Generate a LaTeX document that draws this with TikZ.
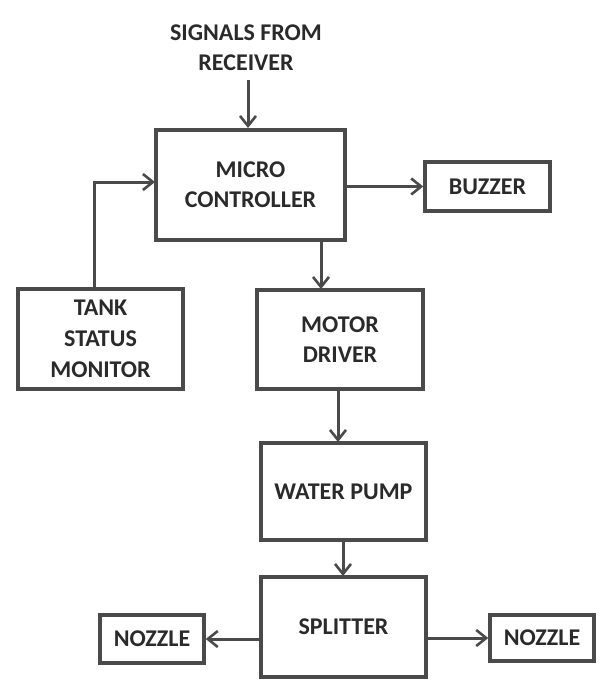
\documentclass[tikz,border=0pt]{standalone}
\usepackage{fontspec}
\setmainfont{Carlito}
\usetikzlibrary{arrows.meta}
\definecolor{ln}{HTML}{4A4A4A}
\definecolor{tx}{HTML}{2A2A2A}
\begin{document}
\begin{tikzpicture}[x=1pt,y=-1pt,
  blk/.style={draw=ln, line width=3.4pt, inner sep=0pt, text=tx, font=\bfseries\fontsize{24}{30}\selectfont, align=center},
  con/.style={draw=ln, line width=3pt, -{Straight Barb[length=10pt,width=16pt,line width=2.6pt]}}]
\useasboundingbox (0,0) rectangle (603,681);
\node[text=tx, font=\bfseries\fontsize{24}{30}\selectfont, align=center] (sig) at (246,48) {SIGNALS FROM\\RECEIVER};
\node[blk, minimum width=189pt, minimum height=110pt] (mc) at (250.5,185) {MICRO\\CONTROLLER};
\node[blk, minimum width=125pt, minimum height=49pt] (bz) at (487.5,186.5) {BUZZER};
\node[blk, minimum width=165pt, minimum height=100pt, font=\bfseries\fontsize{24}{31}\selectfont] (tk) at (100.5,339) {TANK\\STATUS\\MONITOR};
\node[blk, minimum width=166pt, minimum height=99pt] (md) at (340,339.5) {MOTOR\\DRIVER};
\node[blk, minimum width=165pt, minimum height=97pt] (wp) at (343.5,491.5) {WATER PUMP};
\node[blk, minimum width=165pt, minimum height=100pt] (sp) at (343.5,627) {SPLITTER};
\node[blk, minimum width=104pt, minimum height=48pt] (nl) at (152,639) {NOZZLE};
\node[blk, minimum width=104pt, minimum height=46pt] (nr) at (542,638) {NOZZLE};
\coordinate (sigend) at (248,80);
\draw[con] (sigend) -- (248,128);
\draw[con] (mc.east |- bz) -- (bz.west);
\draw[con] ([xshift=-6.5pt]tk.north) -- (94,182) -- (155,182);
\draw[con] (321,240) -- (321,289);
\draw[con] (338,389) -- (338,442);
\draw[con] (343,540) -- (343,576);
\draw[con] (sp.west |- nl) -- (nl.east);
\draw[con] (sp.east |- nr) -- (nr.west);
\end{tikzpicture}
\end{document}
